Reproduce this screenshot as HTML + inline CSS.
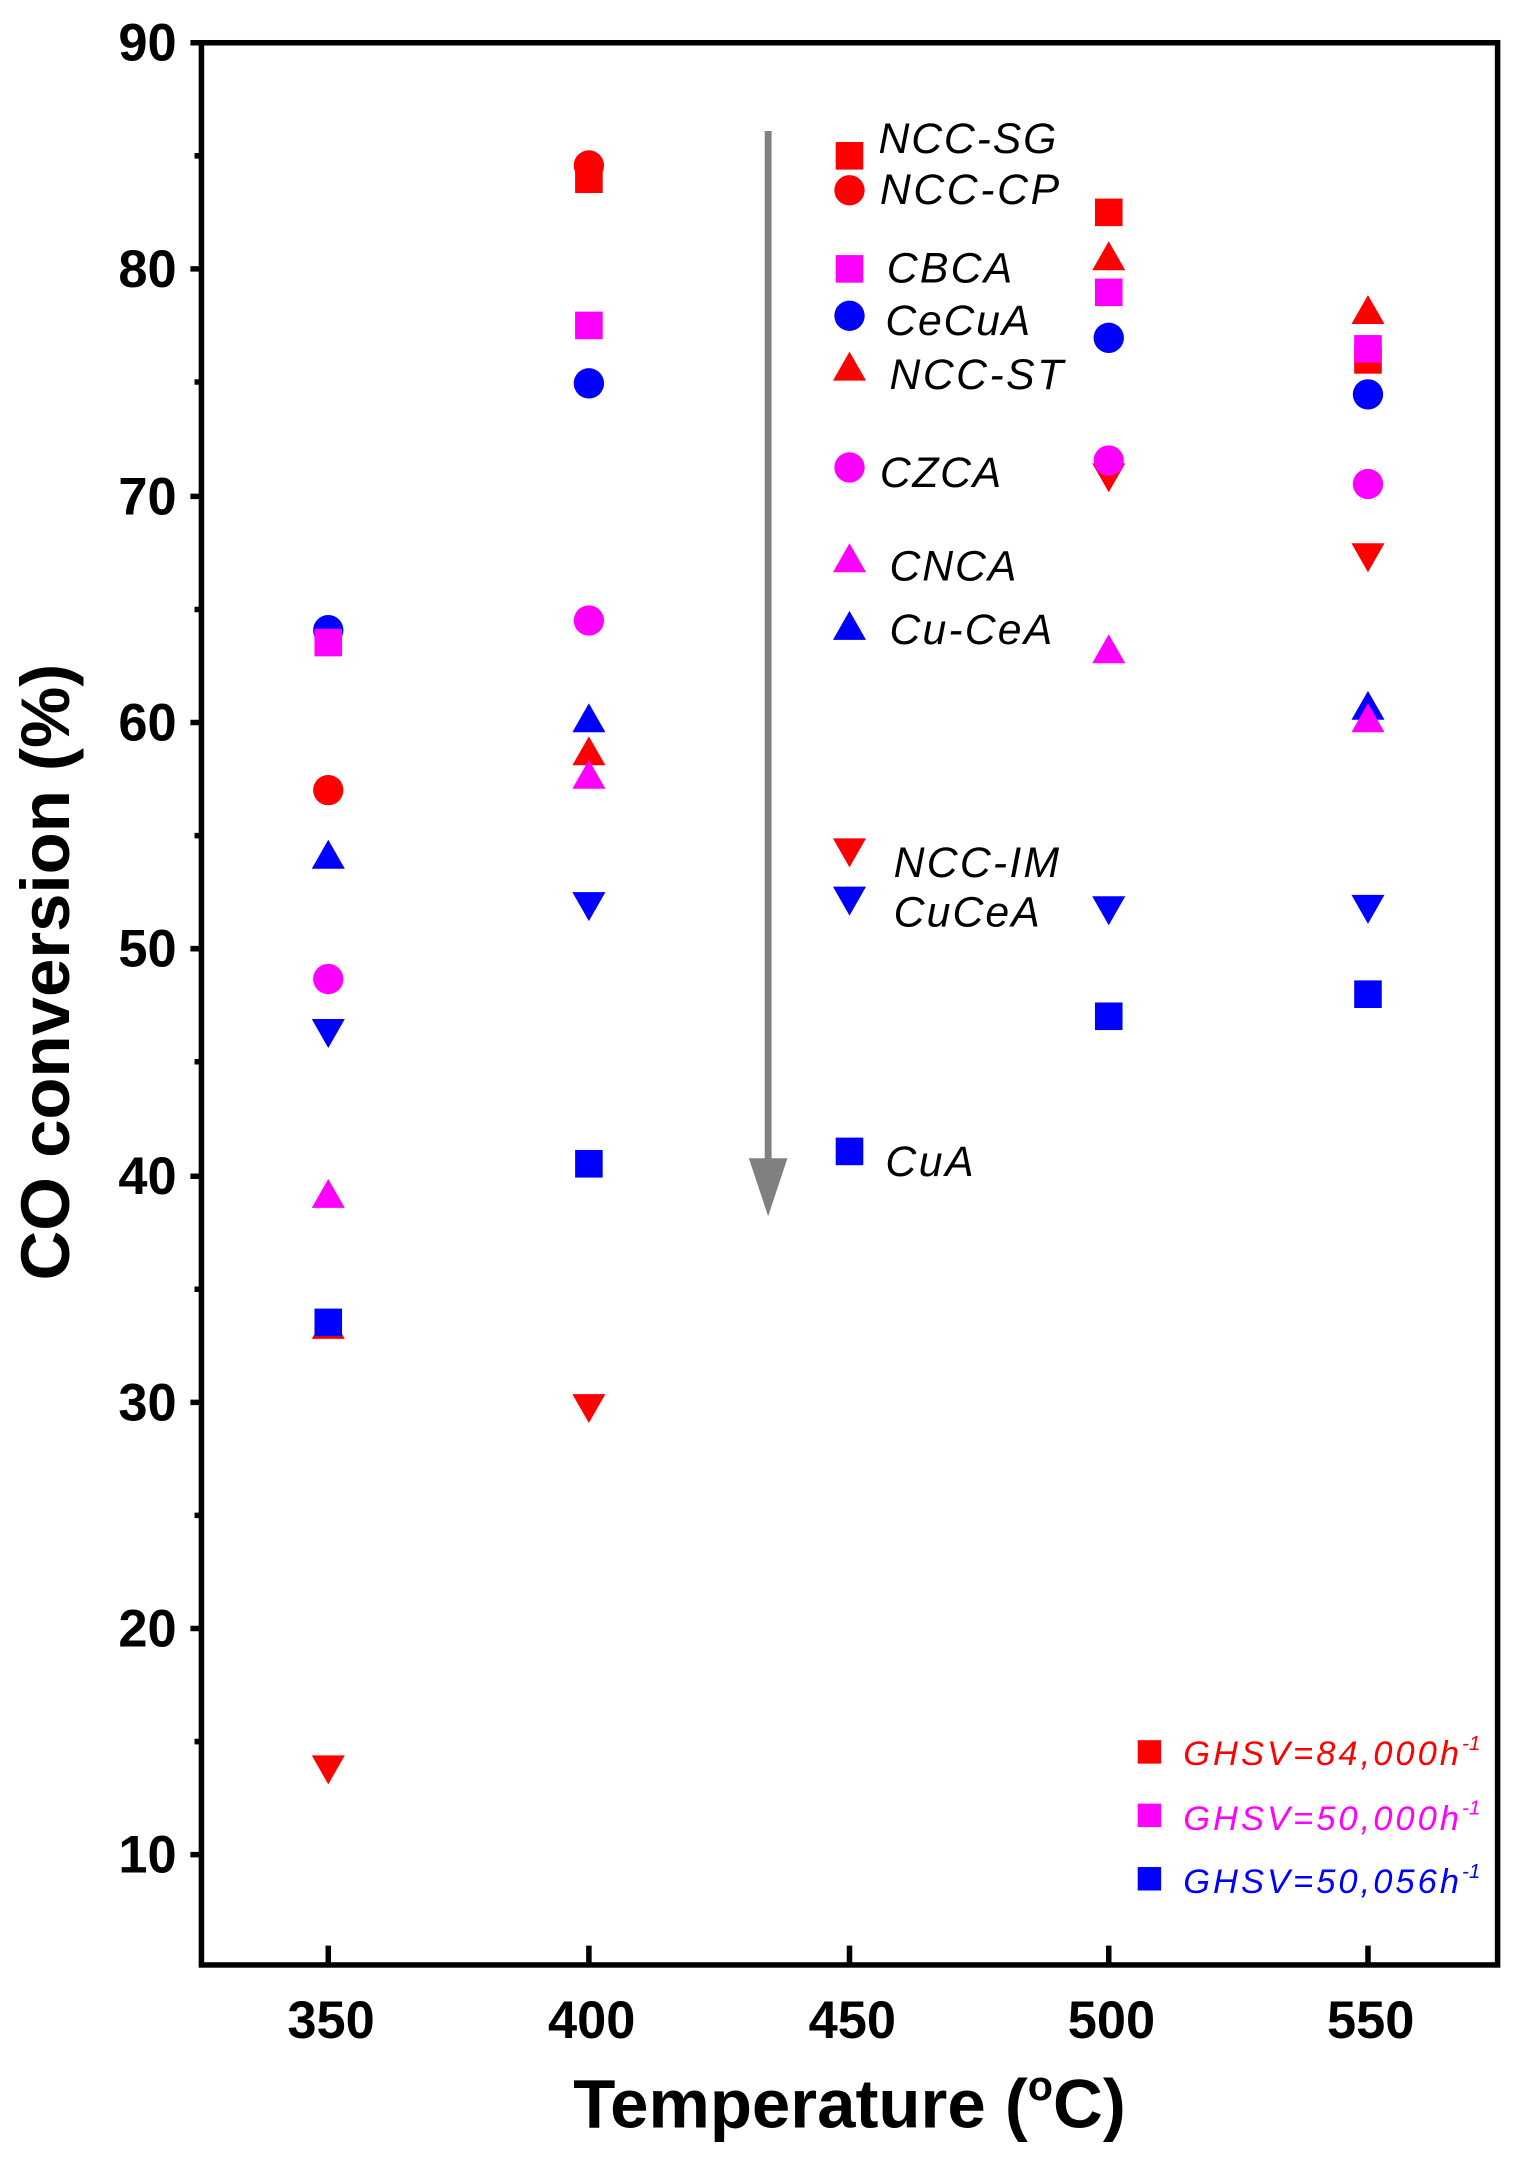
<!DOCTYPE html><html><head><style>body{margin:0;background:#fff}</style></head><body>
<svg width="1517" height="2158" viewBox="0 0 1100 1565" xmlns="http://www.w3.org/2000/svg" font-family="Liberation Sans, sans-serif">
<defs>
<rect id="s" x="-10" y="-10" width="20" height="20"/>
<circle id="c" r="11"/>
<polygon id="t" points="0,-12 12,9 -12,9"/>
<polygon id="d" points="0,12 12,-9 -12,-9"/>
</defs>
<g stroke="#000" stroke-width="4" fill="none">
<rect x="146" y="31" width="940" height="1394"/>
<path d="M138,31H146M138,195H146M138,360H146M138,524H146M138,688H146M138,853H146M138,1017H146M138,1181H146M138,1345H146"/>
<path d="M141,113H146M141,277H146M141,442H146M141,606H146M141,770H146M141,935H146M141,1099H146M141,1263H146"/>
<path d="M238,1425V1411M427,1425V1411M616,1425V1411M804,1425V1411M992,1425V1411"/>
</g>
<g font-weight="bold" font-size="38" text-anchor="end">
<text x="128" y="44">90</text><text x="128" y="208">80</text><text x="128" y="373">70</text><text x="128" y="537">60</text><text x="128" y="701">50</text><text x="128" y="866">40</text><text x="128" y="1030">30</text><text x="128" y="1194">20</text><text x="128" y="1358">10</text>
</g>
<g font-weight="bold" font-size="38" text-anchor="middle">
<text x="240" y="1478">350</text><text x="429" y="1478">400</text><text x="618" y="1478">450</text><text x="806" y="1478">500</text><text x="994" y="1478">550</text>
</g>
<text x="616" y="1543" font-weight="bold" font-size="50" text-anchor="middle">Temperature (<tspan font-size="30" dy="-20">o</tspan><tspan dy="20">C)</tspan></text>
<text transform="translate(50,705) rotate(-90)" font-weight="bold" font-size="50" text-anchor="middle">CO conversion (%)</text>
<g stroke="#808080" stroke-width="5" fill="#808080">
<line x1="557" y1="95" x2="557" y2="850"/>
<polygon points="543,840 571,840 557,882" stroke="none"/>
</g>
<use href="#t" x="238" y="962" fill="#f00"/>
<use href="#s" x="238" y="959" fill="#00f"/>
<use href="#c" x="238" y="573" fill="#f00"/>
<use href="#c" x="238" y="457" fill="#00f"/>
<use href="#s" x="238" y="466" fill="#f0f"/>
<use href="#t" x="238" y="621" fill="#00f"/>
<use href="#c" x="238" y="710" fill="#f0f"/>
<use href="#d" x="238" y="748" fill="#00f"/>
<use href="#t" x="238" y="867" fill="#f0f"/>
<use href="#d" x="238" y="1282" fill="#f00"/>
<use href="#s" x="427" y="130" fill="#f00"/>
<use href="#c" x="427" y="120" fill="#f00"/>
<use href="#s" x="427" y="236" fill="#f0f"/>
<use href="#c" x="427" y="278" fill="#00f"/>
<use href="#c" x="427" y="450" fill="#f0f"/>
<use href="#t" x="427" y="522" fill="#00f"/>
<use href="#t" x="427" y="546" fill="#f00"/>
<use href="#t" x="427" y="563" fill="#f0f"/>
<use href="#d" x="427" y="656" fill="#00f"/>
<use href="#s" x="427" y="844" fill="#00f"/>
<use href="#d" x="427" y="1020" fill="#f00"/>
<use href="#s" x="804" y="154" fill="#f00"/>
<use href="#s" x="804" y="212" fill="#f0f"/>
<use href="#t" x="804" y="187" fill="#f00"/>
<use href="#c" x="804" y="245" fill="#00f"/>
<use href="#d" x="804" y="345" fill="#f00"/>
<use href="#c" x="804" y="334" fill="#f0f"/>
<use href="#t" x="804" y="472" fill="#f0f"/>
<use href="#d" x="804" y="659" fill="#00f"/>
<use href="#s" x="804" y="737" fill="#00f"/>
<use href="#s" x="992" y="261" fill="#f00"/>
<use href="#s" x="992" y="253" fill="#f0f"/>
<use href="#t" x="992" y="226" fill="#f00"/>
<use href="#c" x="992" y="286" fill="#00f"/>
<use href="#c" x="992" y="351" fill="#f0f"/>
<use href="#d" x="992" y="403" fill="#f00"/>
<use href="#t" x="992" y="513" fill="#00f"/>
<use href="#t" x="992" y="522" fill="#f0f"/>
<use href="#d" x="992" y="658" fill="#00f"/>
<use href="#s" x="992" y="721" fill="#00f"/>
<use href="#s" x="616" y="113" fill="#f00"/>
<use href="#c" x="616" y="138" fill="#f00"/>
<use href="#s" x="616" y="195" fill="#f0f"/>
<use href="#c" x="616" y="229" fill="#00f"/>
<use href="#t" x="616" y="267" fill="#f00"/>
<use href="#c" x="616" y="339" fill="#f0f"/>
<use href="#t" x="616" y="406" fill="#f0f"/>
<use href="#t" x="616" y="455" fill="#00f"/>
<use href="#d" x="616" y="617" fill="#f00"/>
<use href="#d" x="616" y="652" fill="#00f"/>
<use href="#s" x="616" y="835" fill="#00f"/>
<g font-style="italic" font-size="31">
<text x="637" y="111" textLength="129">NCC-SG</text>
<text x="638" y="148" textLength="130">NCC-CP</text>
<text x="643" y="205" textLength="91">CBCA</text>
<text x="642" y="243" textLength="105">CeCuA</text>
<text x="645" y="282" textLength="126">NCC-ST</text>
<text x="638" y="353" textLength="88">CZCA</text>
<text x="645" y="421" textLength="92">CNCA</text>
<text x="645" y="467" textLength="118">Cu-CeA</text>
<text x="648" y="636" textLength="120">NCC-IM</text>
<text x="648" y="672" textLength="106">CuCeA</text>
<text x="642" y="853" textLength="64">CuA</text>
</g>
<rect x="825" y="1262" width="17" height="17" fill="#f00"/>
<rect x="825" y="1308" width="17" height="17" fill="#f0f"/>
<rect x="825" y="1354" width="17" height="17" fill="#00f"/>
<g font-style="italic" font-size="25">
<text x="858" y="1280" fill="#f00"><tspan textLength="200">GHSV=84,000h</tspan><tspan font-size="15" dy="-11">-1</tspan></text>
<text x="858" y="1327" fill="#f0f"><tspan textLength="200">GHSV=50,000h</tspan><tspan font-size="15" dy="-11">-1</tspan></text>
<text x="858" y="1373" fill="#00f"><tspan textLength="200">GHSV=50,056h</tspan><tspan font-size="15" dy="-11">-1</tspan></text>
</g>
</svg>
</body></html>
